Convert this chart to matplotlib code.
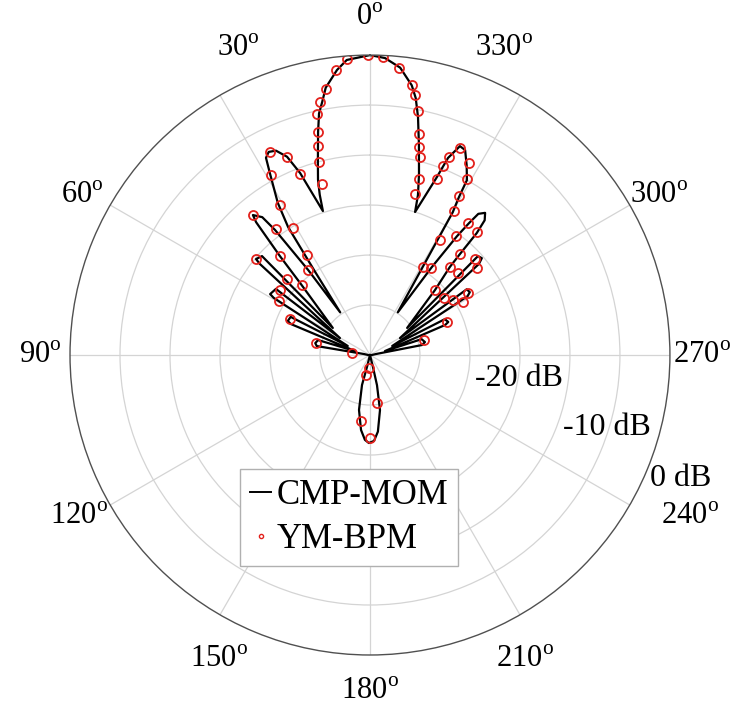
import numpy as np
import matplotlib
matplotlib.use('Agg')
import matplotlib.pyplot as plt
from matplotlib.lines import Line2D

plt.rcParams['font.family'] = ['Liberation Serif', 'DejaVu Serif']
plt.rcParams['mathtext.fontset'] = 'custom'
plt.rcParams['mathtext.rm'] = 'Liberation Serif'

# CMP-MOM curve, front half (angle in degrees, level in dB)
cmp_theta = [88.0, 80.5,
             80.4, 77.7, 73.9, 75.1,
             68.6, 67.5, 64.3, 67.8,
             59.3, 58.6, 54.9, 60.5,
             50.4, 49.9, 47.5, 53.9,
             44.3, 42.3, 40.6, 39.9, 38.0, 37.2, 36.0, 34.9,
             33.4, 32.6, 31.2, 28.8, 27.8, 26.5, 24.7, 22.7, 21.0, 18.1,
             17.4, 16.5, 15.1, 13.1, 11.9, 10.7, 9.4, 6.6, 4.5, 0.0,
             -2.9, -6.0, -8.8, -10.1, -11.4, -13.1, -15.2, -16.7, -17.5,
             -20.6, -21.6, -23.3, -24.9, -27.0, -29.0, -29.4, -30.1, -33.1,
             -35.1, -36.2, -36.9, -37.5, -39.0, -40.4, -41.2, -41.7, -42.2, -45.0, -53.9,
             -47.5, -49.1, -50.1, -60.5,
             -55.8, -57.8, -58.9, -67.8,
             -64.4, -67.1, -68.2, -75.1,
             -72.9, -76.7, -79.1, -80.5, -88.0]
cmp_db = [-29.8, -29.4,
          -24.6, -24.4, -24.6, -28.45,
          -21.5, -21.1, -21.2, -27.6,
          -18.8, -18.3, -18.5, -26.55,
          -15.7, -15.1, -15.35, -25.4,
          -20.2, -16.6, -12.5, -11.75, -12.5, -14.3, -19.5, -24.8,
          -20.0, -14.8, -12.2, -9.2, -7.7, -7.3, -7.5, -8.5, -10.5, -14.85,
          -13.2, -11.7, -10.0, -7.1, -5.3, -4.25, -2.9, -1.3, -0.4, 0.0,
          -0.26, -1.1, -2.7, -3.9, -5.7, -8.4, -11.3, -13.3, -15.0,
          -11.0, -8.8, -7.25, -7.4, -8.7, -10.0, -11.9, -13.5, -24.9,
          -19.3, -15.3, -13.5, -12.2, -11.7, -12.3, -13.8, -16.5, -18.1, -20.8, -25.4,
          -15.35, -15.2, -15.8, -26.55,
          -18.3, -18.2, -18.6, -27.6,
          -21.7, -21.5, -21.9, -28.45,
          -24.6, -24.35, -24.7, -29.4, -29.8]

# CMP-MOM back lobe
cmp_back_theta = [150.0, 166.0, 165.1, 168.7, 173.2, 176.6, 179.3,
                  182.7, 185.9, 190.3, 193.1, 194.0, 210.0]
cmp_back_db = [-30.0, -28.8, -26.9, -24.4, -22.45, -21.5, -21.2,
               -21.4, -22.3, -24.4, -26.9, -28.8, -30.0]

# YM-BPM samples
bpm_theta = [0.3, 4.5, 6.7, 9.4, 11.2, 12.4, 13.0, 13.9, 14.9, 15.8,
             -2.6, -5.8, -8.8, -9.9, -11.2, -12.5, -13.3, -14.1, -15.5, -15.6,
             26.2, 22.8, 28.8, 21.3, 31.0, 36.8, 31.2, 39.8, 42.3, 32.0,
             36.0, 49.7, 47.4, 44.3, 54.2, 59.5, 65.8, 77.6, 84.6,
             -23.5, -21.9, -21.0, -27.3, -20.8, -29.0, -29.4, -30.2, -36.6, -41.0,
             -31.3, -35.8, -41.7, -47.7, -50.9, -31.3, -35.1, -42.2, -47.0, -45.0,
             -52.3, -56.6, -60.3, -57.9, -66.5, -74.6,
             175.6, 168.7, 188.3, 172.2, 180.0]
bpm_db = [0.0, -0.3, -1.3, -3.0, -4.2, -5.3, -7.1, -8.5, -10.0, -12.2,
          -0.2, -1.1, -2.7, -3.6, -5.1, -7.4, -8.6, -9.6, -11.7, -13.3,
          -7.4, -8.5, -9.5, -10.6, -12.5, -14.3, -15.1, -11.8, -16.6, -18.2,
          -19.5, -15.1, -18.7, -20.2, -18.9, -19.4, -21.2, -24.5, -28.2,
          -7.45, -8.7, -9.75, -8.35, -11.2, -9.9, -11.8, -13.3, -13.5, -13.7,
          -16.5, -15.3, -16.5, -15.8, -16.25, -19.7, -19.3, -18.1, -17.9, -20.8,
          -20.7, -20.0, -19.25, -18.4, -21.6, -24.4,
          -28.7, -28.0, -25.15, -23.3, -21.7]

angle_ticks = [0, 30, 60, 90, 120, 150, 180, 210, 240, 270, 300, 330]
# where each angle label sits (angle, level)
angle_label_pos = [(0, 3.8), (23.3, 3.4), (61, 2.9), (90, 3.0), (119, 3.3), (153.7, 4.0),
                   (180, 3.7), (207, 4.2), (243.2, 5.9), (270, 3.2), (299, 3.0), (336.4, 3.5)]
ring_levels = [-25, -20, -15, -10, -5]
db_labels = ['-20 dB', '-10 dB', '0 dB']
db_label_pos = [(-102.4, -19.25), (-110.7, -9.4), (-113.9, 0.6)]

fig = plt.figure(figsize=(7.37, 7.13), dpi=100)
ax = fig.add_axes([0.095, 0.0813, 0.814, 0.8415], projection='polar')
ax.set_theta_zero_location('N')
ax.set_theta_direction(1)
ax.set_rlim(-30, 0)
ax.set_thetagrids(angle_ticks, labels=[''] * len(angle_ticks))
ax.set_rgrids(ring_levels, labels=[''] * len(ring_levels))
ax.grid(color='#d4d4d4', lw=0.9)
ax.spines['polar'].set_color('#505050')
ax.spines['polar'].set_linewidth(1.0)

ax.plot(np.radians(cmp_theta), cmp_db, color='black', lw=1.6)
ax.plot(np.radians(cmp_back_theta), cmp_back_db, color='black', lw=1.6)
ax.plot(np.radians(bpm_theta), bpm_db, ls='none', marker='o', ms=6.5,
        mfc='none', mec='#e3211c', mew=1.3)

# angle labels
for a, (t, r) in zip(angle_ticks, angle_label_pos):
    ax.text(np.radians(t), r, '%d$^{\\mathrm{o}}$' % a, ha='center', va='center',
            fontsize=22)

# ring labels
for lab, (t, r) in zip(db_labels, db_label_pos):
    ax.text(np.radians(t), r, lab, ha='left', va='center', fontsize=23)

h1 = Line2D([], [], color='black', lw=1.4)
h2 = Line2D([], [], ls='none', marker='o', ms=3, mfc='none', mec='#e3211c', mew=1.0)
leg = ax.legend([h1, h2], ['CMP-MOM', 'YM-BPM'], loc='upper left',
                bbox_to_anchor=(240 / 737, 1 - 469 / 713), bbox_transform=fig.transFigure,
                fontsize=25, handlelength=0.6, handletextpad=0.15, borderpad=0.3,
                labelspacing=0.3, borderaxespad=0, fancybox=False, framealpha=1)
leg.get_frame().set_edgecolor('#b0b0b0')
leg.get_frame().set_linewidth(1.0)

fig.savefig('out.png', dpi=100)
